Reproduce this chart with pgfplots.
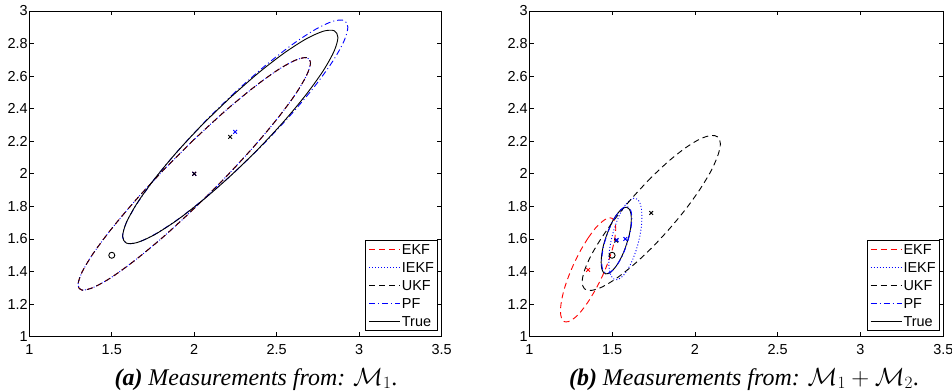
\documentclass[border=0pt]{standalone}
\usepackage{fontspec}
\setmainfont{Liberation Serif}
\setsansfont{Liberation Sans}
\usepackage{pgfplots}
\usepackage{pgfplotstable}
\pgfplotsset{compat=1.18}

% 2-sigma covariance ellipses (x y), closed curves
\pgfplotstableread{
x y
2.000 2.212
1.818 2.028
1.648 1.842
1.502 1.667
1.390 1.515
1.319 1.395
1.295 1.317
1.319 1.286
1.390 1.303
1.502 1.367
1.648 1.475
1.818 1.618
2.000 1.788
2.183 1.972
2.353 2.158
2.499 2.333
2.611 2.485
2.681 2.605
2.705 2.683
2.681 2.714
2.611 2.697
2.499 2.633
2.353 2.525
2.183 2.382
2.000 2.212
}\ellAfilt

\pgfplotstableread{
x y
2.218 2.468
2.049 2.302
1.892 2.131
1.757 1.966
1.653 1.819
1.588 1.700
1.566 1.617
1.588 1.575
1.653 1.578
1.757 1.625
1.892 1.713
2.049 1.836
2.218 1.986
2.387 2.152
2.544 2.323
2.679 2.488
2.783 2.635
2.848 2.754
2.871 2.838
2.848 2.879
2.783 2.876
2.679 2.829
2.544 2.741
2.387 2.618
2.218 2.468
}\ellAtrue

\pgfplotstableread{
x y
2.248 2.502
2.071 2.327
1.907 2.148
1.765 1.976
1.657 1.823
1.588 1.700
1.565 1.615
1.588 1.574
1.657 1.579
1.765 1.631
1.907 1.725
2.071 1.856
2.248 2.014
2.425 2.189
2.590 2.368
2.731 2.539
2.840 2.692
2.908 2.816
2.931 2.901
2.908 2.942
2.840 2.937
2.731 2.885
2.590 2.791
2.425 2.660
2.248 2.502
}\ellApf

\pgfplotstableread{
x y
1.525 1.746
1.501 1.706
1.480 1.658
1.461 1.606
1.446 1.553
1.437 1.502
1.434 1.457
1.437 1.421
1.446 1.397
1.461 1.386
1.480 1.388
1.501 1.405
1.525 1.434
1.549 1.474
1.571 1.522
1.589 1.574
1.604 1.627
1.613 1.679
1.616 1.723
1.613 1.759
1.604 1.783
1.589 1.795
1.571 1.792
1.549 1.775
1.525 1.746
}\ellBtrue

\pgfplotstableread{
x y
1.528 1.750
1.504 1.710
1.483 1.662
1.464 1.610
1.449 1.557
1.440 1.506
1.437 1.461
1.440 1.425
1.449 1.401
1.464 1.390
1.483 1.392
1.504 1.409
1.528 1.438
1.552 1.478
1.574 1.526
1.592 1.578
1.607 1.631
1.616 1.683
1.619 1.727
1.616 1.763
1.607 1.787
1.592 1.799
1.574 1.796
1.552 1.779
1.528 1.750
}\ellBpf

\pgfplotstableread{
x y
1.580 1.809
1.554 1.766
1.530 1.712
1.509 1.650
1.493 1.585
1.483 1.521
1.480 1.463
1.483 1.413
1.493 1.376
1.509 1.355
1.530 1.350
1.554 1.363
1.580 1.391
1.606 1.434
1.630 1.488
1.651 1.550
1.667 1.615
1.677 1.679
1.680 1.738
1.677 1.787
1.667 1.824
1.651 1.845
1.630 1.850
1.606 1.837
1.580 1.809
}\ellBiekf

\pgfplotstableread{
x y
1.355 1.606
1.312 1.534
1.272 1.454
1.237 1.370
1.210 1.289
1.194 1.217
1.188 1.157
1.194 1.115
1.210 1.093
1.237 1.093
1.272 1.114
1.312 1.155
1.355 1.214
1.398 1.286
1.439 1.367
1.473 1.450
1.500 1.531
1.516 1.603
1.522 1.663
1.516 1.705
1.500 1.727
1.473 1.728
1.439 1.706
1.398 1.665
1.355 1.606
}\ellBekf

\pgfplotstableread{
x y
1.736 1.978
1.628 1.860
1.527 1.736
1.441 1.614
1.374 1.501
1.333 1.406
1.319 1.336
1.333 1.294
1.374 1.284
1.441 1.306
1.527 1.359
1.628 1.440
1.736 1.542
1.844 1.660
1.945 1.784
2.031 1.906
2.098 2.019
2.139 2.114
2.154 2.185
2.139 2.226
2.098 2.236
2.031 2.214
1.945 2.161
1.844 2.080
1.736 1.978
}\ellBukf

\tikzset{
  ekfline/.style={red, line width=0.9bp, dash pattern=on 6bp off 4bp},
  iekfline/.style={blue, line width=0.9bp, dash pattern=on 1bp off 2bp},
  ukfline/.style={black, line width=0.9bp, dash pattern=on 6bp off 4bp},
  pfline/.style={blue, line width=0.9bp, dash pattern=on 6bp off 3bp on 1bp off 3bp},
  trueline/.style={black, line width=0.9bp, solid},
  estmark/.style={only marks, mark=x, mark size=2.6bp, mark options={line width=0.9bp, solid}},
  legtext/.style={anchor=base west, inner sep=0pt, font=\sffamily\fontsize{14.5}{17}\selectfont},
}

\pgfplotsset{
  covaxis/.style={
    scale only axis, height=325.7bp,
    xmin=1, xmax=3.5, ymin=1, ymax=3,
    xtick={1,1.5,2,2.5,3,3.5}, xticklabels={1,1.5,2,2.5,3,3.5},
    ytick={1,1.2,1.4,1.6,1.8,2,2.2,2.4,2.6,2.8,3},
    yticklabels={1,1.2,1.4,1.6,1.8,2,2.2,2.4,2.6,2.8,3},
    tick align=inside, major tick length=4.5bp,
    axis line style={line width=0.9bp},
    every tick/.style={black, line width=0.7bp},
    ticklabel style={font=\sffamily\fontsize{14.5}{17}\selectfont},
    xticklabel style={yshift=-4bp},
    yticklabel style={inner sep=1.5bp},
  },
}

% legend box in the lower right corner of an axis (origin = its south east corner)
\newcommand{\filterlegend}{%
  \draw[line width=0.8bp, fill=white] (-76bp,6bp) rectangle (-4.4bp,96bp);
  \draw[ekfline]   (-72.7bp,87bp) -- (-41.7bp,87bp);
  \draw[iekfline]  (-72.7bp,69bp) -- (-41.7bp,69bp);
  \draw[ukfline]   (-72.7bp,51bp) -- (-41.7bp,51bp);
  \draw[pfline]    (-72.7bp,33bp) -- (-41.7bp,33bp);
  \draw[trueline]  (-72.7bp,15bp) -- (-41.7bp,15bp);
  \node[legtext] at (-40bp,81.8bp) {EKF};
  \node[legtext] at (-40bp,63.8bp) {IEKF};
  \node[legtext] at (-40bp,45.8bp) {UKF};
  \node[legtext] at (-40bp,27.8bp) {PF};
  \node[legtext] at (-40bp,9.8bp) {True};
}

\begin{document}
\begin{tikzpicture}
\path[use as bounding box] (-29.3bp,-54.3bp) rectangle (922.7bp,336.7bp);

% (a) single sensor
\begin{axis}[covaxis, name=pa, width=412.4bp, at={(0bp,0bp)}, anchor=south west]
  \addplot[ekfline, smooth] table[x=x, y=y] {\ellAfilt};
  \addplot[iekfline, smooth] table[x=x, y=y] {\ellAfilt};
  \addplot[ukfline, draw opacity=0.8, smooth] table[x=x, y=y] {\ellAfilt};
  \addplot[pfline, smooth] table[x=x, y=y] {\ellApf};
  \addplot[trueline, smooth] table[x=x, y=y] {\ellAtrue};
  \addplot[estmark, red] coordinates {(2,2)};
  \addplot[estmark, blue] coordinates {(2,2)};
  \addplot[estmark, black] coordinates {(2,2)};
  \addplot[estmark, black] coordinates {(2.218,2.227)};
  \addplot[estmark, blue] coordinates {(2.248,2.258)};
  \addplot[only marks, mark=o, mark size=3bp, mark options={black, line width=0.9bp, solid}] coordinates {(1.5,1.5)};
\end{axis}
\begin{scope}[shift={(pa.south east)}]
  \filterlegend
\end{scope}

% (b) both sensors
\begin{axis}[covaxis, name=pb, width=414bp, at={(500bp,0bp)}, anchor=south west]
  \addplot[ekfline, smooth] table[x=x, y=y] {\ellBekf};
  \addplot[iekfline, smooth] table[x=x, y=y] {\ellBiekf};
  \addplot[ukfline, smooth] table[x=x, y=y] {\ellBukf};
  \addplot[trueline, smooth] table[x=x, y=y] {\ellBtrue};
  \addplot[pfline, smooth] table[x=x, y=y] {\ellBpf};
  \addplot[estmark, red] coordinates {(1.355,1.41)};
  \addplot[estmark, blue] coordinates {(1.58,1.60)};
  \addplot[estmark, black] coordinates {(1.736,1.76)};
  \addplot[estmark, black] coordinates {(1.525,1.59)};
  \addplot[estmark, blue] coordinates {(1.528,1.594)};
  \addplot[only marks, mark=o, mark size=3bp, mark options={black, line width=0.9bp, solid}] coordinates {(1.5,1.5)};
\end{axis}
\begin{scope}[shift={(pb.south east)}]
  \filterlegend
\end{scope}

\node[anchor=base] at (226.7bp,-48.5bp) {\fontsize{24}{28}\selectfont\textbf{\textit{(a)}} \textit{Measurements from:} $\mathcal{M}_1$.};
\node[anchor=base] at (714.7bp,-48.5bp) {\fontsize{24}{28}\selectfont\textbf{\textit{(b)}} \textit{Measurements from:} $\mathcal{M}_1+\mathcal{M}_2$.};
\end{tikzpicture}
\end{document}
